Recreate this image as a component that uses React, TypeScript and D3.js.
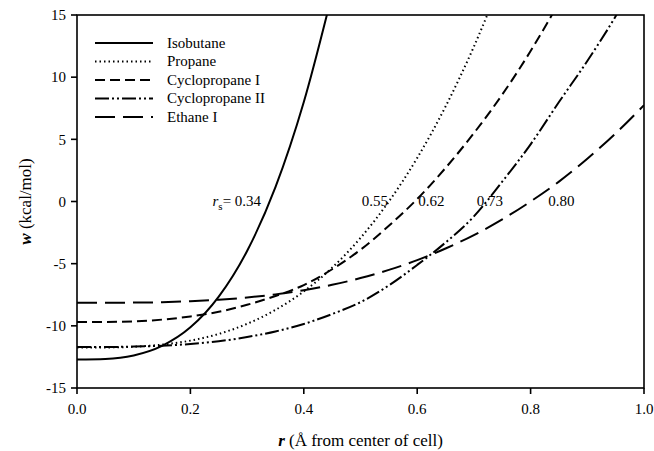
import React from "react";
import * as d3 from "d3";

const rValues = [0, 0.05, 0.1, 0.15, 0.2, 0.25, 0.3, 0.35, 0.4, 0.45, 0.5, 0.55, 0.6, 0.65, 0.7, 0.75, 0.8, 0.85, 0.9, 0.95, 1.0];

const isobutane = [-12.7, -12.66, -12.38, -11.61, -10.12, -7.65, -3.98, 1.15, 8.0, 16.7];
const propane = [-11.75, -11.74, -11.68, -11.51, -11.19, -10.65, -9.84, -8.72, -7.23, -5.32, -2.93, 0, 3.5, 7.64, 12.46, 18.0];
const cyclopropaneI = [-9.7, -9.69, -9.64, -9.5, -9.25, -8.87, -8.31, -7.6, -6.72, -5.45, -3.88, -1.95, 0.2, 2.7, 5.5, 8.6, 12.1, 16.0];
const cyclopropaneII = [-11.7, -11.7, -11.67, -11.6, -11.46, -11.24, -10.9, -10.45, -9.85, -9.05, -8.1, -6.75, -5.1, -3.3, -1.2, 1.6, 4.6, 8.0, 11.3, 14.9, 19.0];
const ethaneI = [-8.15, -8.15, -8.13, -8.1, -8.02, -7.9, -7.72, -7.47, -7.13, -6.7, -6.16, -5.5, -4.72, -3.78, -2.7, -1.44, 0.0, 1.6, 3.44, 5.48, 7.75];

const seriesNames = ["Isobutane", "Propane", "Cyclopropane I", "Cyclopropane II", "Ethane I"];
const seriesDash = ["none", "1.5,3", "10,5", "14,3,2,3,2,3", "20,8"];
const seriesData = [isobutane, propane, cyclopropaneI, cyclopropaneII, ethaneI];

const xTicks = [0, 0.2, 0.4, 0.6, 0.8, 1.0];
const yTicks = [-15, -10, -5, 0, 5, 10, 15];

const rsLabels = ["0.55", "0.62", "0.73", "0.80"];
const rsLabelPos = [0.502, 0.602, 0.705, 0.831];

const W = 654, H = 451;
const left = 77, right = 644, top = 15, bottom = 388;
const FONT = "Liberation Serif, DejaVu Serif, serif";

export default function App() {
  const x = d3.scaleLinear().domain([0, 1]).range([left, right]);
  const y = d3.scaleLinear().domain([-15, 15]).range([bottom, top]);
  const line = d3
    .line<[number, number]>()
    .x((d) => x(d[0]))
    .y((d) => y(d[1]))
    .curve(d3.curveMonotoneX);

  const legendY = [43, 61.5, 80, 98.5, 117];

  return (
    <svg width={W} height={H} style={{ position: "absolute", left: 0, top: 0, background: "#fff", fontFamily: FONT }}>
      <defs>
        <clipPath id="plot">
          <rect x={left} y={top} width={right - left} height={bottom - top} />
        </clipPath>
      </defs>
      <rect x={0} y={0} width={W} height={H} fill="#fff" />
      <g clipPath="url(#plot)">
        {seriesData.map((vals, i) => (
          <path
            key={i}
            d={line(vals.map((v, j) => [rValues[j], v] as [number, number])) || ""}
            fill="none"
            stroke="#000"
            strokeWidth={2}
            strokeDasharray={seriesDash[i]}
          />
        ))}
      </g>
      <rect x={left} y={top} width={right - left} height={bottom - top} fill="none" stroke="#000" strokeWidth={1.6} />
      {yTicks.map((t) => (
        <g key={"y" + t}>
          <line x1={left - 6} x2={left} y1={y(t)} y2={y(t)} stroke="#000" strokeWidth={1.6} />
          <text x={left - 11} y={y(t)} dy="0.35em" textAnchor="end" fontSize={15} style={{ fontFamily: FONT }}>
            {t}
          </text>
        </g>
      ))}
      {xTicks.map((t) => (
        <g key={"x" + t}>
          <line x1={x(t)} x2={x(t)} y1={bottom} y2={bottom + 6} stroke="#000" strokeWidth={1.6} />
          <text x={x(t)} y={bottom + 26} textAnchor="middle" fontSize={15} style={{ fontFamily: FONT }}>
            {t.toFixed(1)}
          </text>
        </g>
      ))}
      <text x={(left + right) / 2} y={446} textAnchor="middle" fontSize={17} style={{ fontFamily: FONT }}>
        <tspan fontStyle="italic" fontWeight="bold">r</tspan>
        <tspan> (Å from center of cell)</tspan>
      </text>
      <text transform={`translate(31, ${y(0)}) rotate(-90)`} textAnchor="middle" fontSize={17} style={{ fontFamily: FONT }}>
        <tspan fontStyle="italic" fontWeight="bold">w</tspan>
        <tspan> (kcal/mol)</tspan>
      </text>
      {seriesNames.map((n, i) => (
        <g key={n}>
          <line x1={95} x2={153} y1={legendY[i]} y2={legendY[i]} stroke="#000" strokeWidth={2} strokeDasharray={seriesDash[i]} />
          <text x={167} y={legendY[i]} dy="0.33em" fontSize={15} style={{ fontFamily: FONT }}>
            {n}
          </text>
        </g>
      ))}
      <text x={x(0.239)} y={y(0) + 4} fontSize={15} style={{ fontFamily: FONT }}>
        <tspan fontStyle="italic">r</tspan>
        <tspan fontSize={11} dy={4}>s</tspan>
        <tspan dy={-4}>= 0.34</tspan>
      </text>
      {rsLabels.map((l, i) => (
        <text key={l} x={x(rsLabelPos[i])} y={y(0) + 4} fontSize={15} style={{ fontFamily: FONT }}>
          {l}
        </text>
      ))}
    </svg>
  );
}
